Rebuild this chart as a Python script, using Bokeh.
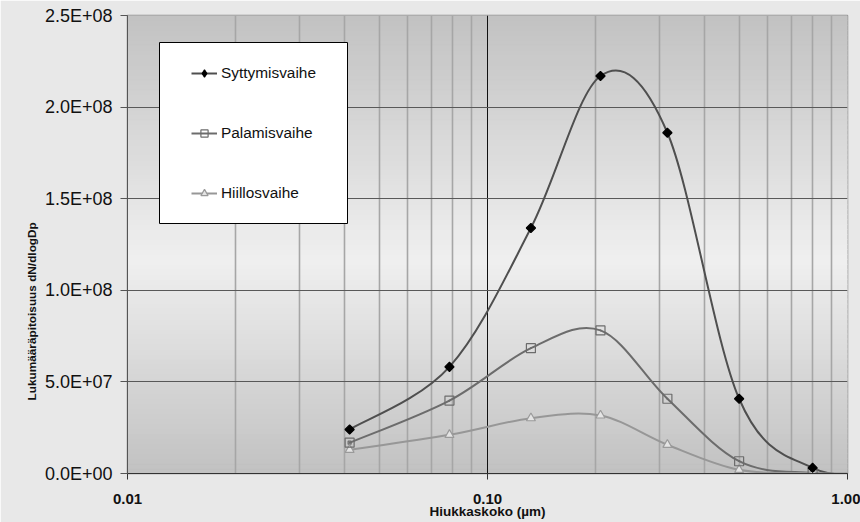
import numpy as np
from math import pi
from bokeh.plotting import figure
from bokeh.models import (Range1d, FixedTicker, Legend, LegendItem,
                          BoxAnnotation, Title)
from bokeh.embed import file_html
from bokeh.resources import INLINE

# Particle size (µm) of each impactor stage
size_um = [0.0414, 0.0784, 0.132, 0.206, 0.316, 0.50, 0.80, 1.30]

# Number concentration dN/dlogDp for each combustion phase
syttymisvaihe = [2.40e7, 5.82e7, 1.34e8, 2.17e8, 1.86e8, 4.08e7, 3.1e6, 0.0]
palamisvaihe = [1.68e7, 3.98e7, 6.84e7, 7.81e7, 4.08e7, 6.7e6, 3.0e5, 0.0]
hiillosvaihe = [1.29e7, 2.11e7, 3.02e7, 3.17e7, 1.57e7, 2.0e6, 2.0e5, 0.0]

series_names = ["Syttymisvaihe", "Palamisvaihe", "Hiillosvaihe"]

# Axis ticks and their labels
x_ticks = [0.01, 0.1, 1.0]
x_tick_labels = ["0.01", "0.10", "1.00"]
x_minor_ticks = [0.02, 0.03, 0.04, 0.05, 0.06, 0.07, 0.08, 0.09,
                 0.2, 0.3, 0.4, 0.5, 0.6, 0.7, 0.8, 0.9]
y_ticks = [0, 5e7, 1e8, 1.5e8, 2e8, 2.5e8]
y_tick_labels = ["0.0E+00", "5.0E+07", "1.0E+08", "1.5E+08", "2.0E+08", "2.5E+08"]

FONT = "Liberation Sans"


def smooth_segments(xs, ys):
    """Cubic Bezier segments (Catmull-Rom style) through the points, in log-x space."""
    u = np.log10(np.asarray(xs, float))
    v = np.asarray(ys, float)
    n = len(u)
    out = {k: [] for k in ("x0", "y0", "x1", "y1", "cx0", "cy0", "cx1", "cy1")}
    for i in range(n - 1):
        i0 = max(i - 1, 0)
        i3 = min(i + 2, n - 1)
        c0u = u[i] + (u[i + 1] - u[i0]) / 6.0
        c0v = v[i] + (v[i + 1] - v[i0]) / 6.0
        c1u = u[i + 1] - (u[i3] - u[i]) / 6.0
        c1v = v[i + 1] - (v[i3] - v[i]) / 6.0
        out["x0"].append(10 ** u[i]); out["y0"].append(v[i])
        out["x1"].append(10 ** u[i + 1]); out["y1"].append(v[i + 1])
        out["cx0"].append(10 ** c0u); out["cy0"].append(c0v)
        out["cx1"].append(10 ** c1u); out["cy1"].append(c1v)
    return out


p = figure(width=860, height=522, x_axis_type="log",
           x_range=Range1d(0.01, 1.0), y_range=Range1d(0, 2.5e8),
           output_backend="svg", toolbar_location=None,
           min_border_left=127, min_border_right=13,
           min_border_top=15, min_border_bottom=49)

p.border_fill_color = "#e8e8e8"
p.background_fill_color = "#e6e6e6"
p.outline_line_color = "#8a8a8a"
p.outline_line_width = 1.5

# Vertical shading of the plot area: darker at top and bottom, light in the middle
n_bands = 92
edges = np.linspace(0, 2.5e8, n_bands + 1)
mid = (edges[:-1] + edges[1:]) / 2 / 2.5e8
peak = 0.47
shade = np.where(mid < peak,
                 240 - 46 * (peak - mid) / peak,
                 240 - 46 * (mid - peak) / (1 - peak))
band_colors = ["#%02x%02x%02x" % (int(c), int(c), int(c)) for c in shade]
bands = p.quad(left=0.01, right=1.0, bottom=edges[:-1], top=edges[1:],
               fill_color=band_colors, line_color=band_colors, line_width=1)
bands.level = "image"

# Axes
p.xaxis.ticker = FixedTicker(ticks=x_ticks, minor_ticks=x_minor_ticks)
p.xaxis.major_label_overrides = dict(zip(x_ticks, x_tick_labels))
p.yaxis.ticker = FixedTicker(ticks=y_ticks)
p.yaxis.major_label_overrides = dict(zip(y_ticks, y_tick_labels))

p.xaxis.axis_label = "Hiukkaskoko (µm)"
p.xaxis.axis_label_text_font = FONT
p.xaxis.axis_label_text_font_size = "13.5px"
p.xaxis.axis_label_text_font_style = "bold"
p.xaxis.axis_label_text_color = "#111111"
p.xaxis.axis_label_standoff = -3
p.xaxis.major_label_text_font = FONT
p.xaxis.major_label_text_font_size = "15px"
p.xaxis.major_label_text_font_style = "bold"
p.xaxis.major_label_text_color = "#111111"
p.xaxis.major_label_standoff = 14
p.xaxis.major_tick_out = 6
p.xaxis.major_tick_in = 0
p.xaxis.minor_tick_line_color = None
p.xaxis.axis_line_color = "#333333"
p.xaxis.major_tick_line_color = "#333333"

p.yaxis.major_label_text_font = FONT
p.yaxis.major_label_text_font_size = "18px"
p.yaxis.major_label_text_color = "#111111"
p.yaxis.major_label_standoff = 8
p.yaxis.major_tick_out = 7
p.yaxis.major_tick_in = 0
p.yaxis.minor_tick_line_color = None
p.yaxis.axis_line_color = "#555555"
p.yaxis.major_tick_line_color = "#555555"

# Vertical axis title, raised from the bottom of the frame
ytitle = Title(text="Lukumääräpitoisuus dN/dlogDp", align="left", offset=73,
               standoff=6, text_font=FONT, text_font_size="11.8px",
               text_font_style="bold", text_color="#111111")
p.add_layout(ytitle, "left")

# Grid
p.xgrid.ticker = p.xaxis.ticker
p.xgrid.grid_line_color = "#111111"
p.xgrid.grid_line_width = 1
p.xgrid.minor_grid_line_color = "#a6a6a6"
p.xgrid.minor_grid_line_width = 1.6
p.ygrid.ticker = p.yaxis.ticker
p.ygrid.grid_line_color = "#595959"
p.ygrid.grid_line_width = 1

# Series styles
styles = {
    "Syttymisvaihe": dict(values=syttymisvaihe, line="#4f4f4f", marker="square",
                          legend_marker="diamond", angle=pi / 4, size=6.5,
                          fill="#000000", edge="#000000"),
    "Palamisvaihe": dict(values=palamisvaihe, line="#6c6c6c", marker="square",
                         legend_marker="square", angle=0, size=9,
                         fill=None, edge="#6c6c6c"),
    "Hiillosvaihe": dict(values=hiillosvaihe, line="#979797", marker="triangle",
                         legend_marker="triangle", angle=0, size=9,
                         fill="#e4e4e4", edge="#9a9a9a"),
}

# Smoothed curves
for name in series_names:
    st = styles[name]
    seg = smooth_segments(size_um, st["values"])
    p.bezier(x0=seg["x0"], y0=seg["y0"], x1=seg["x1"], y1=seg["y1"],
             cx0=seg["cx0"], cy0=seg["cy0"], cx1=seg["cx1"], cy1=seg["cy1"],
             line_color=st["line"], line_width=2, line_cap="round")

# Legend glyphs: a single-point line (draws nothing in the plot) and a small
# marker hidden beneath the first data marker
legend_glyphs = {}
for name in series_names:
    st = styles[name]
    ln = p.line(x=size_um[:1], y=st["values"][:1], line_color=st["line"], line_width=2)
    mk = p.scatter(x=size_um[:1], y=st["values"][:1], marker=st["legend_marker"],
                   size=3, fill_color=st["fill"], line_color=st["edge"], line_width=1.2)
    legend_glyphs[name] = [ln, mk]

# Data markers
for name in reversed(series_names):
    st = styles[name]
    p.scatter(x=size_um, y=st["values"], marker=st["marker"], size=st["size"],
              angle=st["angle"], fill_color=st["fill"], line_color=st["edge"],
              line_width=1.2)

# Legend frame
box = BoxAnnotation(left=32, right=220, bottom=250, top=431,
                    left_units="screen", right_units="screen",
                    bottom_units="screen", top_units="screen",
                    fill_color="white", fill_alpha=1.0,
                    line_color="#000000", line_width=1, line_alpha=1.0)
p.add_layout(box)

legend = Legend(
    items=[LegendItem(label=n, renderers=legend_glyphs[n]) for n in series_names],
    location=(64, 271), padding=0, margin=0, spacing=42,
    glyph_width=26, glyph_height=18, label_height=18, label_standoff=4,
    label_text_font=FONT, label_text_font_size="15.4px", label_text_color="#111111",
    background_fill_alpha=0, border_line_color=None)
p.add_layout(legend)

open("out.html", "w").write(file_html(p, INLINE))
